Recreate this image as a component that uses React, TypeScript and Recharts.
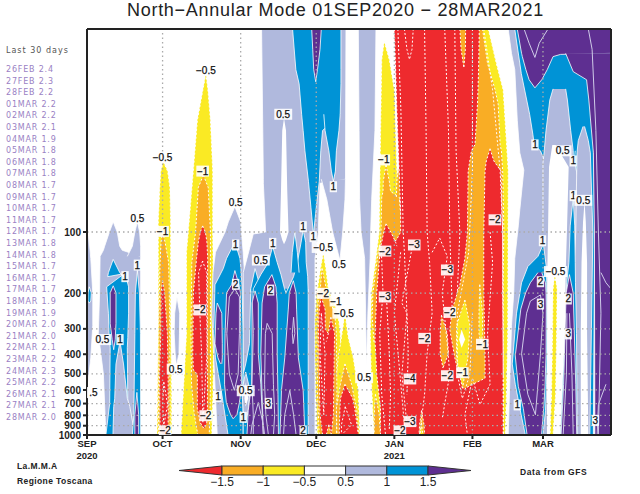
import { ComposedChart, Area, Line, XAxis, YAxis, ReferenceLine } from 'recharts'

// bands of the shaded field, lowest first
const COLORS = ['#EE2A2E', '#F9AD25', '#FAEA24', '#FFFFFF', '#B0B9DD', '#0093D6', '#5E2F91']
const [RED, ORANGE, YELLOW, WHITE, LAV, BLUE, PURPLE] = [0, 1, 2, 3, 4, 5, 6]

const PRESSURES = [1000, 900, 800, 700, 600, 500, 400, 300, 200, 100]
const MONTH_DAYS = [0, 30, 61, 91, 122, 153, 181]
const MONTH_LABELS = ['SEP', 'OCT', 'NOV', 'DEC', 'JAN', 'FEB', 'MAR']
const YEAR_LABELS = ['2020', '', '', '', '2021', '', '']

const LAST_DAYS = ['26FEB 2.4', '27FEB 2.3', '28FEB 2.2', '01MAR 2.2', '02MAR 2.2', '03MAR 2.1', '04MAR 1.9', '05MAR 1.8', '06MAR 1.8', '07MAR 1.8', '08MAR 1.7', '09MAR 1.7', '10MAR 1.7', '11MAR 1.7', '12MAR 1.7', '13MAR 1.8', '14MAR 1.8', '15MAR 1.7', '16MAR 1.7', '17MAR 1.7', '18MAR 1.9', '19MAR 1.9', '20MAR 2.0', '21MAR 2.0', '22MAR 2.1', '23MAR 2.2', '24MAR 2.3', '25MAR 2.2', '26MAR 2.1', '27MAR 2.1', '28MAR 2.0']
const SCALE_LABELS = ['−1.5', '−1', '−0.5', '0.5', '1', '1.5']

type Row = number[]

// each region: rows of [height, first day, last day], height = 100*log10(1000/p)
const lavSep1: Row[] = [[98, 0.5, 0.7], [87, 0, 1.5], [70, 0, 2.3], [54, 0, 2.3], [38, 0, 1.5], [25, 0, 0.3]]
const blueSep0: Row[] = [[73, 0.9, 0.9], [70, 0.4, 1.7], [66, 0.4, 1.5], [65, 0.9, 0.9]]
const lavSep2: Row[] = [[105, 10.4, 10.4], [100, 8.9, 12], [93, 7, 13], [91, 6.5, 14], [88, 5.2, 21.3], [70, 5, 21.3], [50, 4.5, 21.3], [30, 6.5, 21.3], [0, 7.5, 21.3]]
const lavSep3: Row[] = [[105, 20, 20], [100, 19, 20.9], [93, 18, 21.3], [88, 16, 21.3]]
const blueSep1: Row[] = [[86.5, 10.4, 10.4], [80, 8.5, 13], [78, 8.2, 14.5], [79.5, 14.8, 15.2], [73, 7.8, 16.5], [60, 8.5, 16.5], [48, 8.8, 16.2], [43, 9.2, 16], [15.5, 9, 16.2], [0, 7.5, 10.4]]
const lavSep4: Row[] = [[46, 13.1, 13.1], [35, 11.5, 14.5], [18, 11, 16], [14, 10.6, 17], [0, 10.3, 19]]
const purpleSep1: Row[] = [[73.5, 10.4, 10.4], [70, 9.2, 11.5], [55, 9.2, 11.5], [47, 10, 11.2], [42, 10.6, 10.6]]
const blueSep2: Row[] = [[81, 20, 20], [70, 19.2, 20.8], [50, 19, 21.2], [10, 18.6, 21.3], [0, 18, 21.3]]
const purpleSep2: Row[] = [[21, 19.8, 19.8], [10, 19, 20.5], [0, 19, 20.5]]
const lavOct: Row[] = [[68, 35.7, 35.7], [60, 34.8, 36.8], [50, 34.6, 36.7], [40, 35, 36.5], [34, 35.5, 35.5]]

const yellowOct1: Row[] = [[134.6, 30.3, 30.3], [130, 29.3, 32], [122, 28.9, 32.9], [105, 28.3, 33.2], [60, 28.3, 33.2], [20, 28, 33.6], [0, 27.8, 33.6]]
const orangeOct1: Row[] = [[100, 30, 30], [95, 29.4, 31], [85, 29, 32.4], [60, 28.6, 32.8], [0, 28.4, 33]]
const redOct1: Row[] = [[76, 30, 30], [70, 29.4, 30.8], [50, 29.3, 31.9], [30, 28.8, 32.2], [5, 29, 32.2], [0, 29.5, 32]]
const yellowOct2: Row[] = [[178, 47.2, 47.2], [170, 46, 48], [155, 43.8, 49], [130, 42.2, 49.9], [100, 40.2, 49.9], [90, 39.5, 50], [50, 39.5, 50.3], [20, 38.2, 50], [0, 37.3, 49.5]]
const orangeOct2: Row[] = [[128, 46.2, 46.2], [122, 44.2, 48.1], [100, 43.1, 49], [85, 41.6, 49], [50, 41.3, 49], [25, 41.5, 49], [10, 42.6, 48.8], [0, 44, 48.5]]
const redOct2: Row[] = [[103, 45.9, 45.9], [100, 45, 47], [95, 44.2, 47.6], [87, 43.5, 47.9], [70, 42.2, 47.8], [40, 42, 47.8], [32, 42.2, 47.8], [30, 43.8, 47.8], [13, 43.8, 47.8], [6, 45, 47.5], [3, 46.5, 46.5]]

const lavNov: Row[] = [[112.5, 58.7, 58.7], [105, 56.1, 61], [100, 54.8, 61.3], [90, 51, 62], [80, 50, 62.5], [60, 49.5, 63], [0, 51.7, 64]]
const blueNov: Row[] = [[95, 58.7, 58.7], [87, 55.4, 60.7], [82, 54.1, 61.1], [74, 50.8, 61.5], [50, 50.3, 62], [38, 51, 62], [21, 53.4, 62], [0, 56, 62.5]]
const purpleNov1: Row[] = [[65, 51.7, 51.7], [60, 51.2, 53.5], [45, 50.8, 53.7], [38, 52, 53.7], [35, 53, 53.5]]
const purpleNov2: Row[] = [[81, 58.7, 58.7], [74, 57.4, 60.3], [70, 55.4, 60.9], [50, 54.8, 61], [25, 54.6, 61.4], [16, 55.3, 60.5], [10, 57, 59.5], [8, 58, 58]]

const lavDec1: Row[] = [[200, 69.3, 102.8], [126, 70, 102.6], [124, 70, 92.5], [100, 70.9, 91.8], [99, 66, 91.8], [87, 63.5, 90.5], [80, 62, 90.5], [50, 62, 90.5], [0, 62, 90.5]]
const lavDec2: Row[] = [[126, 93, 102.6], [116, 95.2, 102.4], [100, 97.5, 101.5], [86, 100.4, 100.4]]
const lavDec3: Row[] = [[200, 107.7, 114.7], [150, 108, 114.3], [116, 108.2, 113], [100, 108.8, 112.6], [87, 110.2, 112.4], [60, 110.6, 111.5], [33, 110.9, 110.9]]
const lavDec4: Row[] = [[55, 113.7, 113.7], [45, 113.3, 114.5], [40, 114, 114]]
const whiteNov1: Row[] = [[156, 78.2, 78.2], [150, 77.5, 79], [120, 77, 79.5], [100, 76.6, 80], [96, 77.5, 79], [94, 78.2, 78.2]]
const blueDec1: Row[] = [[72, 65, 87.8], [45, 64.5, 87.8], [35, 63, 87.8], [30, 62, 87.8], [0, 62, 87.8]]
const blueDec2: Row[] = [[82, 66.7, 66.7], [72, 65, 69], [70, 65, 69]]
const blueDec3: Row[] = [[92.8, 73.7, 73.7], [85, 72, 75.5], [79, 69, 77], [72, 66, 78.4], [70, 66, 79]]
const blueDec4: Row[] = [[101, 85.8, 85.8], [95, 85, 86.8], [85, 83.5, 87], [78, 82, 87.6], [70, 79, 87.8]]
const blueDec5: Row[] = [[100, 82.5, 82.5], [90, 81.5, 83.5], [80, 81, 84.2]]
const blueDec6: Row[] = [[200, 81.6, 100.8], [180, 82.9, 100.8], [173, 84.2, 100.8], [158, 85.2, 100.5], [150, 85.8, 93.5], [140, 86.5, 92.8], [125, 87.9, 92.2], [112, 88.9, 91], [100, 89.8, 90]]
const blueDec7: Row[] = [[158, 94, 100.5], [150, 94.5, 100], [140, 96, 99], [130, 97, 98.6], [125, 97.8, 97.8]]
const purpleDec1: Row[] = [[200, 89.2, 93], [190, 89.6, 92.5], [180, 90, 91.5], [174, 90.8, 90.8]]
const lavWedge: Row[] = [[31, 63, 63], [22, 61.5, 64.7], [12, 62, 64], [6, 63, 63]]
const whiteWedge: Row[] = [[26, 63, 63], [18, 62.5, 64], [14, 63, 63]]
const purpleNov3: Row[] = [[71, 66.7, 66.7], [65, 65.5, 68], [40, 65.5, 68], [25, 65.3, 69], [12, 64, 69.5], [0, 63.5, 70]]
const purpleDec2: Row[] = [[79, 73.4, 73.4], [73, 70.5, 75], [65, 69.5, 75.5], [40, 69, 75.5], [20, 69.5, 75.8], [0, 70, 76]]
const purpleDec3: Row[] = [[76, 81.9, 81.9], [70, 80.3, 83], [62, 79.9, 83.2], [38, 78.5, 83.9], [22, 77.2, 85.8], [0, 76.6, 86.5]]

const yellowDec1: Row[] = [[89.5, 93.8, 93.8], [82, 92.7, 94.8], [72, 91.5, 95.8], [68, 91, 97], [62, 90.8, 99], [56, 90.5, 100], [50, 90.5, 100.5], [40, 90.5, 101], [20, 90.8, 102], [0, 91.5, 102]]
const yellowDec2: Row[] = [[60, 102.4, 102.4], [48, 101, 103.7], [38, 99.7, 105.7], [22, 98.4, 107.7], [0, 99.7, 108.3]]
const orangeDec1: Row[] = [[82, 93.3, 93.3], [72, 92.6, 95], [66, 91.8, 96.5], [60, 91.4, 98.3], [50, 91.3, 99], [20, 91.5, 99.2], [0, 92.2, 99]]
const redDec1: Row[] = [[68, 93, 93], [62, 92.2, 94.5], [52, 91.9, 94.6], [46, 92, 98.2], [10, 92.5, 97.8], [0, 93.5, 97]]
const redDec2: Row[] = [[58, 96.8, 96.8], [50, 95.8, 98.3], [46, 95, 98.2]]
const orangeDec2: Row[] = [[35, 102.4, 102.4], [25, 100.6, 105], [13, 99, 107], [0, 99.2, 108]]
const redDec3: Row[] = [[25, 102.4, 102.4], [18, 100.6, 105.5], [13, 100.4, 106.3], [0, 100.1, 107.7]]
const orangeNotch: Row[] = [[5, 96, 96], [0, 95, 97]]

const yellowJan: Row[] = [[193.8, 118, 118], [185, 117, 120], [170, 116.8, 122], [130, 116.3, 123], [100, 116, 125], [90, 115, 125], [70, 112.9, 125], [50, 112.5, 125], [30, 112.8, 125], [10, 113.5, 125], [0, 114, 125]]
const orangeJan1: Row[] = [[133, 118.7, 118.7], [125, 117.6, 120], [120, 117.5, 120.5], [117, 117, 124], [100, 116.7, 125], [95, 116.5, 125], [90, 115.6, 125], [70, 113.5, 125], [58, 113.2, 125], [45, 114, 115]]
const orangeJan2: Row[] = [[132, 123.5, 123.5], [125, 123, 124.5], [117, 122.8, 124.5]]
const orangeJan3: Row[] = [[20, 114.5, 114.5], [10, 114, 116], [0, 114, 116.5]]
const yellowFeb: Row[] = [[200, 155.7, 159.3], [183, 155.5, 162.5], [170, 155, 165.2], [130, 155, 167.2], [50, 155, 167], [20, 155, 166.5], [0, 155, 166]]
const redMain: Row[] = [[200, 122, 156], [160, 123, 156], [110, 124.5, 156], [100, 124.5, 160], [96, 122.8, 165.2], [93, 116.6, 165.2], [90, 116.3, 165.2], [70, 115, 165.2], [47, 114.3, 165.2], [30, 115, 165.2], [13, 116.5, 165.2], [0, 116.5, 165.2]]
const redJanTip: Row[] = [[104, 118.7, 118.7], [100, 117.8, 120.6], [95, 117, 122.5], [93, 116.6, 123]]
const orangeFeb: Row[] = [[200, 155.7, 157], [183, 155.5, 159], [170, 155.2, 162], [163, 155, 163.2], [143, 154, 164], [140, 152.6, 164.5], [130, 151.3, 165], [100, 151, 165.5], [87, 150, 165.3], [74, 148, 165], [62, 145, 165], [52, 144, 165], [38, 146, 165], [30, 147.5, 159], [28, 149, 158], [23, 149.3, 150]]
const orangeTop: Row[] = [[200, 148, 150.3], [190, 148.5, 150.2], [181, 149.6, 149.6]]
const orangeMid: Row[] = [[59, 140.7, 140.7], [50, 140.2, 143], [40, 140.2, 143.5], [33, 141.3, 141.3]]
const orangeLow: Row[] = [[12, 132.8, 132.8], [5, 132, 133.8], [0, 131.8, 134]]
const yellowLow: Row[] = [[6, 132.8, 132.8], [0, 132.3, 133.3]]
const redFeb: Row[] = [[141, 160, 160], [135, 158.5, 161.5], [130, 158, 164.3], [100, 157.5, 165], [70, 157.5, 165], [40, 158, 165.2], [28, 158, 165.2]]
const yellowFeb2: Row[] = [[66.5, 150, 150], [54, 146.7, 152], [38, 146.7, 151.2], [23, 149, 149]]
const yellowFeb3: Row[] = [[74, 155.9, 155.9], [60, 155.6, 157], [50, 155.6, 157], [44, 156.5, 156.5]]
const whiteFeb: Row[] = [[52, 148.7, 148.7], [47, 147.7, 150.1], [43, 148.7, 148.7]]

const lavMar: Row[] = [[200, 167.2, 201], [188, 168.5, 201], [180, 169.8, 201], [155, 170.8, 201], [139, 171.8, 201], [130.5, 173.4, 201], [111, 171.8, 201], [103, 171.2, 201], [87, 169.8, 201], [70, 169.4, 201], [54, 168.5, 201], [0, 167.2, 201]]
const blueMar1: Row[] = [[200, 169.8, 208], [178, 172.4, 208], [158, 175.7, 208], [148, 177, 208], [143, 177.5, 201.2], [140, 180, 201.2], [134, 182, 201.2], [100, 199.5, 201.5], [0, 199, 201]]
const lavMar2: Row[] = [[170.5, 185, 190], [165, 183.7, 190.7], [150, 182.2, 192], [140, 181.5, 193], [134, 181, 193.6], [100, 181, 199.5]]
const lavMar3: Row[] = [[152, 196.9, 197.5], [145, 195, 199], [139, 194.5, 199.8], [100, 194, 200.8], [0, 190, 199.6]]
const blueMarTip: Row[] = [[140, 193, 193.8], [134, 193, 193.4]]
const purpleMar1: Row[] = [[200, 170.8, 208], [188, 172.5, 208], [187.5, 172.6, 188], [186.4, 172.8, 185], [180, 174.2, 182.7], [175, 175.5, 180.5], [171, 177.8, 177.8]]
const purpleMar2: Row[] = [[188, 190, 208], [179, 193, 208], [175, 198.3, 208], [165, 199.2, 208], [139, 201, 208], [100, 201.4, 208], [0, 201.6, 208]]
const whiteMar1: Row[] = [[142.9, 184.7, 186], [132, 183.4, 191.2], [100, 183, 190.5], [80, 182.7, 190], [40, 182.6, 189.7], [0, 182.6, 188]]
const yellowMar: Row[] = [[78.8, 185.7, 185.7], [72, 185, 186.6], [50, 184.8, 186.4], [20, 184.4, 186], [0, 183.8, 185]]
const blueMar3: Row[] = [[93.6, 181, 181.2], [88, 179, 181.8], [83, 175, 182.3], [75, 172.5, 182.5], [60, 170.5, 182.6], [35, 168.8, 182.6], [25, 170, 182.4], [12, 172, 182], [0, 174, 181]]
const purpleMar3: Row[] = [[80, 179, 180.5], [75, 176, 182], [70, 174.1, 182.2], [62, 172.2, 182.3], [39, 170, 182.2], [24, 171.2, 181.8], [13, 173.2, 181.3], [0, 174.7, 180.4]]
const blueMar4: Row[] = [[116.6, 193, 193], [103, 191.8, 193.6], [85, 191.3, 193.8], [75, 190.4, 193.9], [50, 189.7, 194.3], [0, 187.9, 194.6]]
const purpleMar4: Row[] = [[79, 191.5, 191.5], [70, 190.2, 193], [52, 189.8, 193.4], [25, 189.2, 194], [0, 188.2, 194.4]]
const whiteMar2: Row[] = [[115, 197.5, 197.5], [105, 196.9, 198], [85, 196.3, 198.5], [50, 196, 198.5], [0, 196, 199]]

// painter's order: later regions cover earlier ones
const LAYERS: [number, Row[]][] = [
    [LAV, lavSep1], [BLUE, blueSep0], [LAV, lavSep2], [LAV, lavSep3], [BLUE, blueSep1], [LAV, lavSep4], [PURPLE, purpleSep1],
    [BLUE, blueSep2], [PURPLE, purpleSep2], [LAV, lavOct],
    [YELLOW, yellowOct1], [ORANGE, orangeOct1], [RED, redOct1], [YELLOW, yellowOct2], [ORANGE, orangeOct2], [RED, redOct2],
    [LAV, lavNov], [BLUE, blueNov], [LAV, lavDec1], [LAV, lavDec2], [LAV, lavDec3], [LAV, lavDec4], [WHITE, whiteNov1],
    [BLUE, blueDec1], [BLUE, blueDec2], [BLUE, blueDec3], [BLUE, blueDec4], [BLUE, blueDec5], [BLUE, blueDec6], [BLUE, blueDec7], [PURPLE, purpleDec1],
    [LAV, lavWedge], [WHITE, whiteWedge], [PURPLE, purpleNov1], [PURPLE, purpleNov2], [PURPLE, purpleNov3], [PURPLE, purpleDec2], [PURPLE, purpleDec3],
    [YELLOW, yellowDec1], [YELLOW, yellowDec2], [ORANGE, orangeDec1], [RED, redDec1], [RED, redDec2], [ORANGE, orangeNotch], [ORANGE, orangeDec2], [RED, redDec3],
    [YELLOW, yellowJan], [ORANGE, orangeJan1], [ORANGE, orangeJan2], [ORANGE, orangeJan3], [YELLOW, yellowFeb], [RED, redMain], [RED, redJanTip],
    [ORANGE, orangeFeb], [ORANGE, orangeTop], [ORANGE, orangeMid], [ORANGE, orangeLow], [YELLOW, yellowLow], [RED, redFeb], [YELLOW, yellowFeb2], [YELLOW, yellowFeb3], [WHITE, whiteFeb],
    [LAV, lavMar], [BLUE, blueMar1], [LAV, lavMar2], [LAV, lavMar3], [BLUE, blueMarTip], [PURPLE, purpleMar1], [PURPLE, purpleMar2], [WHITE, whiteMar1], [YELLOW, yellowMar],
    [BLUE, blueMar3], [PURPLE, purpleMar3], [BLUE, blueMar4], [PURPLE, purpleMar4], [WHITE, whiteMar2],
]

// inner contours as [height, day]
const DASHED_LINES: Row[][] = [
    [[200, 123.4], [160, 124.6], [100, 125.5], [90, 126], [60, 127], [30, 125], [5, 127]],
    [[92, 116.8], [70, 117.5], [50, 116.2], [20, 117], [0, 118.5]],
    [[65, 119], [40, 120], [20, 120.5], [3, 120]],
    [[200, 126], [190, 127], [185, 128], [190, 129], [200, 129.5]],
    [[200, 134], [150, 134.6], [100, 135], [85, 136], [60, 137], [40, 135], [20, 134], [0, 132]],
    [[90, 124.5], [60, 122], [40, 123.5], [5, 126]],
    [[92, 129], [65, 125], [60, 127], [40, 127.5], [20, 127]],
    [[90, 137], [97, 140], [88, 143], [70, 141], [45, 143], [30, 144], [8, 141]],
    [[200, 142], [150, 143.5], [100, 144], [60, 145]],
    [[200, 146], [140, 146.5], [100, 148], [70, 147]],
    [[200, 153], [130, 153], [90, 151.5], [60, 147], [30, 147], [18, 149], [30, 152], [60, 153]],
    [[200, 157.5], [170, 161], [130, 164], [100, 165], [0, 165.3]],
    [[100, 160], [85, 161], [50, 159], [25, 160], [15, 156], [28, 153], [10, 150], [0, 151]],
    [[26, 30.5], [15, 30], [5, 30.5], [15, 32], [26, 30.5]],
    [[85.7, 45.9], [80, 44.3], [60, 44.8], [40, 45.5], [6, 46], [40, 47.6], [80, 47.5], [85.7, 45.9]],
    [[60, 93], [40, 92.5], [10, 94], [40, 94.5], [60, 93]],
    [[14, 102.5], [5, 101], [0, 101], [5, 105], [14, 102.5]],
]
const SOLID_LINES: Row[][] = [
    [[72, 58.7], [68, 56.5], [50, 55.5], [30, 56.5], [26, 57.5], [22, 58.5], [30, 60], [50, 60.5], [68, 60.5], [72, 58.7]],
    [[55, 71.5], [50, 70.8], [25, 70.5], [10, 71], [0, 72]],
    [[55, 71.5], [50, 73.5], [25, 74], [10, 74.5], [0, 74]],
    [[71, 65.5], [50, 66], [25, 65.5], [10, 66], [0, 66]],
    [[16, 68], [5, 65.5], [0, 65]],
    [[16, 68], [5, 70], [0, 70.5]],
    [[58, 82], [50, 81.5], [45, 81.8], [50, 82.5], [58, 82]],
    [[22, 80.5], [10, 78.5], [0, 78]],
    [[22, 80.5], [10, 82], [0, 83]],
    [[200, 173.5], [193, 175.5], [186, 177.8], [193, 179.5], [200, 183]],
    [[200, 199], [190, 200.5], [150, 202], [100, 203], [60, 204], [0, 203]],
    [[80, 204], [75, 206], [72, 208]],
    [[69, 180], [66, 176], [60, 174.5], [40, 172.5], [20, 175], [10, 178], [40, 180], [60, 181], [69, 180]],
    [[60, 190.5], [30, 190.3], [0, 189]],
    [[60, 191.5], [30, 192.5], [0, 193]],
    [[25, 206], [15, 203], [0, 202.5]],
]

// contour values written on the field: [height, day, text]
const LABELS: [number, number, string][] = [
    [179.8, 47.2, '−0.5'], [130, 45.9, '−1'], [136.8, 30, '−0.5'], [100.3, 30, '−1'], [106.7, 20, '0.5'], [114.6, 59, '0.5'],
    [83.7, 20, '1'], [78, 15.1, '1'], [47, 6.1, '0.5'], [47, 13.1, '1'], [20.9, 2.5, '.5'], [61.6, 44.8, '−2'], [93.6, 59, '1'], [74.2, 59, '2'],
    [86.2, 69, '0.5'], [32.5, 35.2, '0.5'], [18.9, 52, '1'], [21.8, 63, '0.5'], [8.7, 62, '1'], [9.5, 47.1, '−2'], [2, 31, '−2'], [15.6, 72, '3'],
    [94.4, 73.7, '1'], [92.4, 93.8, '−0.5'], [84, 100, '0.5'], [97.7, 89.8, '1'], [102.6, 85.8, '1'], [158, 77.9, '0.5'], [122.3, 97.8, '1'],
    [135.5, 117.8, '−1'], [90.6, 118.3, '−2'], [68, 118.3, '−3'], [69.8, 93.8, '−2'], [66, 98.8, '−1'], [60, 102, '−0.5'], [71.4, 72.9, '2'],
    [2, 85.8, '2'], [28.2, 110, '0.5'], [93.6, 129.9, '−3'], [81.3, 143, '−3'], [47.6, 134, '−2'], [27.6, 128.2, '−4'], [6.6, 128.2, '−3'], [2, 124.2, '−2'],
    [29.2, 143, '−2'], [60.4, 144, '−2'], [30.7, 149, '−1'], [44.7, 156.9, '−1'], [106, 161.9, '−2'], [142.9, 177.8, '1'], [140, 188.8, '0.5'],
    [135, 193, '1'], [117.9, 193, '1'], [115.6, 197, '0.5'], [95.7, 180.8, '1'], [75.5, 180, '2'], [64.5, 180, '3'], [14.8, 170.8, '1'], [80.5, 186, '−0.5'],
    [67, 191, '2'], [49.8, 191, '3'], [7.2, 201.8, '3'],
]

const heightOf = (p: number) => 100 * Math.log10(1000 / p)
const pressureOf = (z: number) => Math.round(1000 / Math.pow(10, z / 100))
const FONT = '"Liberation Sans", sans-serif'

const MonthTick = ({ x, y, payload }: any) => {
    const i = MONTH_DAYS.indexOf(payload.value)
    return (
        <text x={x} y={y} textAnchor="middle" fontFamily={FONT} fontSize={9.5} fontWeight="bold" fill="#222">
            <tspan x={x} dy={6}>{MONTH_LABELS[i]}</tspan>
            {YEAR_LABELS[i] && <tspan x={x} dy={12}>{YEAR_LABELS[i]}</tspan>}
        </text>
    )
}

const LabelDot = ({ cx, cy, payload }: any) => {
    const w = payload.text.length * 5.3 + 2
    return (
        <g key={`${payload.z}-${payload.day}`}>
            <rect x={cx - w / 2} y={cy - 5.5} width={w} height={11} fill="#fff" opacity={0.9} />
            <text x={cx} y={cy + 3.5} textAnchor="middle" fontFamily={FONT} fontSize={10} fill="#111" stroke="#111" strokeWidth={0.25}>{payload.text}</text>
        </g>
    )
}

const App = () => {
    return (
        <div style={{ position: 'absolute', left: 0, top: 0, width: 640, height: 494, background: '#fff', overflow: 'hidden' }}>
            <ComposedChart
                layout="vertical"
                width={640}
                height={494}
                margin={{ top: 29, right: 29, bottom: 29, left: 40 }}
            >
                <XAxis
                    type="number"
                    domain={[0, 208]}
                    ticks={MONTH_DAYS}
                    allowDataOverflow
                    interval={0}
                    height={30}
                    tick={<MonthTick />}
                    tickSize={4}
                    stroke="#222"
                    strokeWidth={2}
                />
                <YAxis
                    type="number"
                    dataKey="z"
                    domain={[0, 200]}
                    reversed
                    ticks={PRESSURES.map(heightOf)}
                    interval={0}
                    allowDataOverflow
                    width={47}
                    tickFormatter={pressureOf}
                    tick={{ fontFamily: FONT, fontSize: 10, fontWeight: 'bold', fill: '#222' }}
                    tickSize={4}
                    stroke="#222"
                    strokeWidth={2}
                />
                {LAYERS.map(([band, rows], i) => (
                    <Area
                        key={i}
                        data={rows.map(([z, a, b]) => ({ z, range: [a, b] }))}
                        dataKey="range"
                        type="linear"
                        fill={COLORS[band]}
                        fillOpacity={1}
                        stroke={band === WHITE ? 'none' : '#fff'}
                        strokeWidth={band < WHITE ? 1 : 0.8}
                        strokeDasharray={band < WHITE ? '2 2' : undefined}
                        dot={false}
                        activeDot={false}
                        isAnimationActive={false}
                    />
                ))}
                {DASHED_LINES.map((rows, i) => (
                    <Line key={`d${i}`} data={rows.map(([z, day]) => ({ z, day }))} dataKey="day" type="linear" stroke="#fff" strokeWidth={1} strokeDasharray="2 2" dot={false} activeDot={false} isAnimationActive={false} />
                ))}
                {SOLID_LINES.map((rows, i) => (
                    <Line key={`s${i}`} data={rows.map(([z, day]) => ({ z, day }))} dataKey="day" type="linear" stroke="#cfcbe8" strokeWidth={1} dot={false} activeDot={false} isAnimationActive={false} />
                ))}
                {PRESSURES.slice(1).map((p) => (
                    <ReferenceLine key={p} y={heightOf(p)} stroke="#aaa" strokeWidth={1.3} strokeDasharray="1.5 3" />
                ))}
                {MONTH_DAYS.slice(1).map((d) => (
                    <ReferenceLine key={d} x={d} stroke="#aaa" strokeWidth={1.3} strokeDasharray="1.5 3" />
                ))}
                <ReferenceLine y={200} stroke="#222" strokeWidth={2} />
                <ReferenceLine x={208} stroke="#222" strokeWidth={2} />
                <Line
                    data={LABELS.map(([z, day, text]) => ({ z, day, text }))}
                    dataKey="day"
                    stroke="none"
                    dot={<LabelDot />}
                    activeDot={false}
                    isAnimationActive={false}
                />
            </ComposedChart>

            <div style={{ position: 'absolute', left: 0, width: 640, top: 0, textAlign: 'center', paddingLeft: 31, boxSizing: 'border-box', fontFamily: FONT, fontSize: 18, letterSpacing: 0.72, color: '#222', whiteSpace: 'nowrap' }}>
                North−Annular Mode 01SEP2020 − 28MAR2021
            </div>
            <div style={{ position: 'absolute', left: 6, top: 46, fontFamily: '"DejaVu Sans"', fontSize: 8, letterSpacing: 1, color: '#555', whiteSpace: 'nowrap' }}>Last 30 days</div>
            {LAST_DAYS.map((row, i) => (
                <div key={row} style={{ position: 'absolute', left: 6, top: 65 + i * 11.6, fontFamily: '"DejaVu Sans"', fontSize: 8, letterSpacing: 0.8, color: '#9a7fc4', whiteSpace: 'pre' }}>
                    {row}
                </div>
            ))}
            <div style={{ position: 'absolute', left: 17, top: 461, fontFamily: FONT, fontSize: 8.5, fontWeight: 'bold', letterSpacing: 0.4, color: '#222' }}>La.M.M.A</div>
            <div style={{ position: 'absolute', left: 17, top: 476, fontFamily: FONT, fontSize: 8.5, fontWeight: 'bold', letterSpacing: 0.4, color: '#222' }}>Regione Toscana</div>
            <div style={{ position: 'absolute', left: 520, top: 467, fontFamily: FONT, fontSize: 8.5, fontWeight: 'bold', letterSpacing: 0.6, color: '#222' }}>Data from GFS</div>

            <svg width={640} height={494} style={{ position: 'absolute', left: 0, top: 0, pointerEvents: 'none' }}>
                <polygon points="222,466 222,475 179,470.5" fill={COLORS[RED]} stroke="#333" strokeWidth={1} />
                {[ORANGE, YELLOW, WHITE, LAV, BLUE].map((band, i) => (
                    <rect key={band} x={222 + i * 41.2} y={466} width={41.2} height={9} fill={COLORS[band]} stroke="#333" strokeWidth={1} />
                ))}
                <polygon points="428,466 428,475 471,470.5" fill={COLORS[PURPLE]} stroke="#333" strokeWidth={1} />
                {SCALE_LABELS.map((label, i) => (
                    <text key={label} x={222 + i * 41.2} y={486} textAnchor="middle" fontFamily={FONT} fontSize={12} fill="#222">{label}</text>
                ))}
            </svg>
        </div>
    )
}

export default App
